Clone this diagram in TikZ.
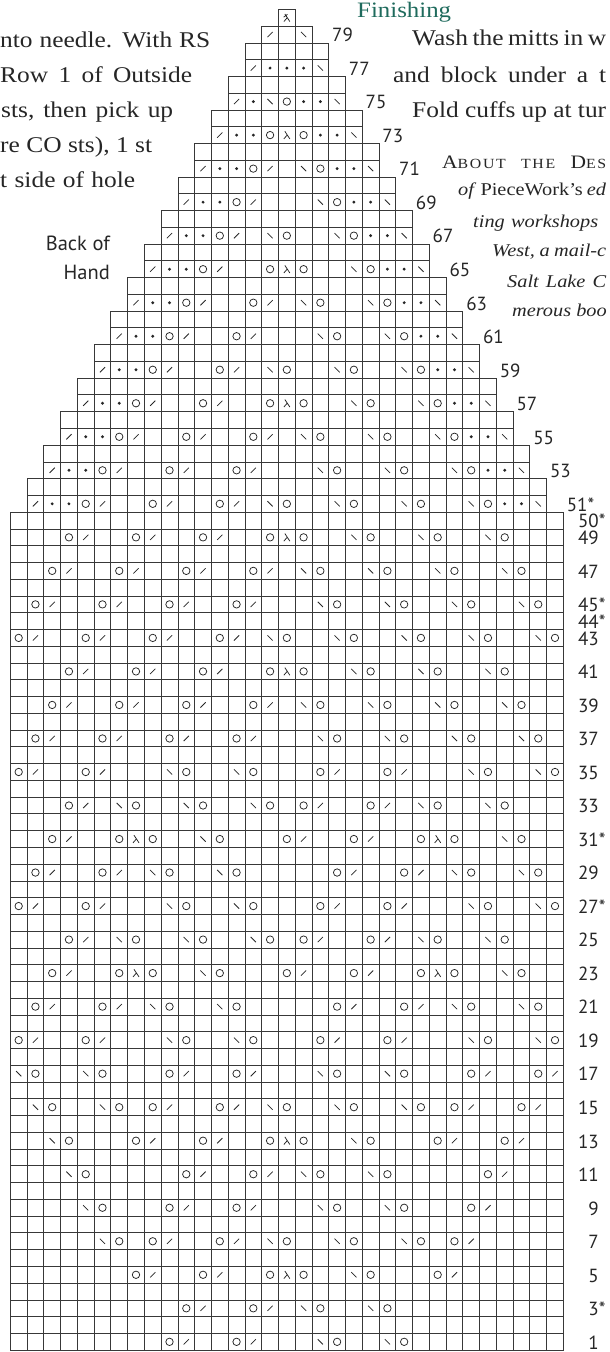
\documentclass[tikz,border=0pt]{standalone}
\usepackage{fontspec}
\setmainfont[FakeStretch=1.13]{Liberation Serif}
\newfontfamily\lblfont{PT Sans}
\definecolor{headteal}{HTML}{1F6B5D}
\definecolor{inkc}{HTML}{262626}

% knitting symbols: #1 = x centre, #2 = y centre (y grows downwards)
\newcommand\kxo[2]{\draw[symline] (#1,#2) circle (3.7);}
\newcommand\kxk[2]{\draw[symline] ({#1-2.6},{#2+2.6}) -- ({#1+2.6},{#2-2.6});}
\newcommand\kxs[2]{\draw[symline] ({#1-2.6},{#2-2.6}) -- ({#1+2.6},{#2+2.6});}
\newcommand\kxp[2]{\fill[inkc] (#1,#2) circle (1.6);}
\newcommand\kxa[2]{\draw[symline] ({#1-2},{#2-3.8}) -- ({#1+3},{#2+3.8}) ({#1+0.4},{#2-0.1}) -- ({#1-3},{#2+3.8});}
\newcommand\kxt[2]{\draw[symline] ({#1-2},{#2-3.8}) -- ({#1+3},{#2+3.8}) ({#1+0.4},{#2-0.1}) -- ({#1-3},{#2+3.8}) ({#1-3.2},{#2-0.6}) -- ({#1+0.6},{#2-3.4});}

\newcommand\symrow[2]{%
  \pgfmathsetmacro{\yc}{9.4+(80.5-#1)*16.76}%
  \foreach \cc/\sy in #2 {%
    \pgfmathsetmacro{\xc}{10.3+(\cc+0.5)*16.76}%
    \csname kx\sy\endcsname{\xc}{\yc}%
  }}

\def\rA{0/o,1/k,4/o,5/k,9/s,10/o,13/s,14/o,18/o,19/k,22/o,23/k,27/s,28/o,31/s,32/o}
\def\rB{1/o,2/k,5/o,6/k,8/s,9/o,12/s,13/o,19/o,20/k,23/o,24/k,26/s,27/o,30/s,31/o}
\def\rC{2/o,3/k,6/o,7/a,8/o,11/s,12/o,16/o,17/k,20/o,21/k,24/o,25/a,26/o,29/s,30/o}
\def\rD{3/o,4/k,6/s,7/o,10/s,11/o,14/s,15/o,17/o,18/k,21/o,22/k,24/s,25/o,28/s,29/o}
\def\rE{1/o,2/k,5/o,6/k,9/o,10/k,13/o,14/k,18/s,19/o,22/s,23/o,26/s,27/o,30/s,31/o}
\def\rF{2/o,3/k,6/o,7/k,10/o,11/k,14/o,15/k,17/s,18/o,21/s,22/o,25/s,26/o,29/s,30/o}
\def\rG{3/o,4/k,7/o,8/k,11/o,12/k,15/o,16/a,17/o,20/s,21/o,24/s,25/o,28/s,29/o}
\def\rH{0/o,1/k,4/o,5/k,8/o,9/k,12/o,13/k,15/s,16/o,19/s,20/o,23/s,24/o,27/s,28/o,31/s,32/o}

\begin{document}
\begin{tikzpicture}[x=1pt,y=-1pt,
  gridline/.style={draw=black!78, line width=0.8pt},
  symline/.style={draw=inkc, line width=0.75pt},
  lbl/.style={font=\lblfont\fontsize{19}{19}\selectfont, inner sep=0pt, text=inkc},
  body/.style={font=\fontsize{22.5}{24}\selectfont, inner sep=0pt, text=inkc},
  ital/.style={font=\fontsize{18}{20}\selectfont\itshape, inner sep=0pt, text=inkc},
  side/.style={font=\lblfont\fontsize{20.5}{22}\selectfont, inner sep=0pt, text=inkc}]
\useasboundingbox (0,0) rectangle (610,1352);
\clip (0,0) rectangle (610,1352);
\fill[white] (0,0) rectangle (610,1352);

% ---- grid ----
\foreach \r in {1,...,80}{
  \pgfmathtruncatemacro{\ka}{\r<51 ? 0 : (\r<79 ? 1+floor((\r-51)/2) : (\r==79 ? 15 : 16))}
  \pgfmathtruncatemacro{\kb}{32-\ka}
  \pgfmathsetmacro{\yt}{9.4+(80-\r)*16.76}
  \foreach \cc in {\ka,...,\kb}{
    \draw[gridline] ({10.3+\cc*16.76},\yt) rectangle ++(16.76,16.76);
  }
}

% ---- symbols ----
\symrow{1}{{9/o,10/k,13/o,14/k,18/s,19/o,22/s,23/o}}
\symrow{3}{{10/o,11/k,14/o,15/k,17/s,18/o,21/s,22/o}}
\symrow{5}{{7/o,8/k,11/o,12/k,15/o,16/a,17/o,20/s,21/o,25/o,26/k}}
\symrow{7}{{5/s,6/o,8/o,9/k,12/o,13/k,15/s,16/o,19/s,20/o,23/s,24/o,26/o,27/k}}
\symrow{9}{{4/s,5/o,9/o,10/k,13/o,14/k,18/s,19/o,22/s,23/o,27/o,28/k}}
\symrow{11}{{3/s,4/o,10/o,11/k,14/o,15/k,17/s,18/o,21/s,22/o,28/o,29/k}}
\symrow{13}{{2/s,3/o,7/o,8/k,11/o,12/k,15/o,16/a,17/o,20/s,21/o,25/o,26/k,29/o,30/k}}
\symrow{15}{{1/s,2/o,5/s,6/o,8/o,9/k,12/o,13/k,15/s,16/o,19/s,20/o,23/s,24/o,26/o,27/k,30/o,31/k}}
\symrow{17}{{0/s,1/o,4/s,5/o,9/o,10/k,13/o,14/k,18/s,19/o,22/s,23/o,27/o,28/k,31/o,32/k}}
\symrow{19}{\rA}
\symrow{21}{\rB}
\symrow{23}{\rC}
\symrow{25}{\rD}
\symrow{27}{\rA}
\symrow{29}{\rB}
\symrow{31}{\rC}
\symrow{33}{\rD}
\symrow{35}{\rA}
\symrow{37}{\rE}
\symrow{39}{\rF}
\symrow{41}{\rG}
\symrow{43}{\rH}
\symrow{45}{\rE}
\symrow{47}{\rF}
\symrow{49}{\rG}
\symrow{51}{{1/k,2/p,3/p,4/o,5/k,8/o,9/k,12/o,13/k,15/s,16/o,19/s,20/o,23/s,24/o,27/s,28/o,29/p,30/p,31/s}}
\symrow{53}{{2/k,3/p,4/p,5/o,6/k,9/o,10/k,13/o,14/k,18/s,19/o,22/s,23/o,26/s,27/o,28/p,29/p,30/s}}
\symrow{55}{{3/k,4/p,5/p,6/o,7/k,10/o,11/k,14/o,15/k,17/s,18/o,21/s,22/o,25/s,26/o,27/p,28/p,29/s}}
\symrow{57}{{4/k,5/p,6/p,7/o,8/k,11/o,12/k,15/o,16/a,17/o,20/s,21/o,24/s,25/o,26/p,27/p,28/s}}
\symrow{59}{{5/k,6/p,7/p,8/o,9/k,12/o,13/k,15/s,16/o,19/s,20/o,23/s,24/o,25/p,26/p,27/s}}
\symrow{61}{{6/k,7/p,8/p,9/o,10/k,13/o,14/k,18/s,19/o,22/s,23/o,24/p,25/p,26/s}}
\symrow{63}{{7/k,8/p,9/p,10/o,11/k,14/o,15/k,17/s,18/o,21/s,22/o,23/p,24/p,25/s}}
\symrow{65}{{8/k,9/p,10/p,11/o,12/k,15/o,16/a,17/o,20/s,21/o,22/p,23/p,24/s}}
\symrow{67}{{9/k,10/p,11/p,12/o,13/k,15/s,16/o,19/s,20/o,21/p,22/p,23/s}}
\symrow{69}{{10/k,11/p,12/p,13/o,14/k,18/s,19/o,20/p,21/p,22/s}}
\symrow{71}{{11/k,12/p,13/p,14/o,15/k,17/s,18/o,19/p,20/p,21/s}}
\symrow{73}{{12/k,13/p,14/p,15/o,16/a,17/o,18/p,19/p,20/s}}
\symrow{75}{{13/k,14/p,15/s,16/o,17/p,18/p,19/s}}
\symrow{77}{{14/k,15/p,16/p,17/p,18/s}}
\symrow{79}{{15/k,17/s}}
\symrow{80}{{16/t}}

% ---- row numbers, lower part (right aligned) ----
\foreach \r/\lab in {1/1,3/3\rlap{*},5/5,7/7,9/9,11/11,13/13,15/15,17/17,19/19,21/21,23/23,25/25,27/27\rlap{*},29/29,31/31\rlap{*},33/33,35/35,37/37,39/39,41/41,43/43,44/44\rlap{*},45/45\rlap{*},47/47,49/49,50/50\rlap{*}}{
  \pgfmathsetmacro{\yc}{9.4+(80.5-\r)*16.76+7.3}
  \node[lbl, anchor=base east] (n\r) at (599,\yc) {\lab};
}
% ---- row numbers, upper part (stepped) ----
\foreach \r/\lab in {51/51*,53/53,55/55,57/57,59/59,61/61,63/63,65/65,67/67,69/69,71/71,73/73,75/75,77/77,79/79}{
  \pgfmathtruncatemacro{\kb}{\r<79 ? 31-floor((\r-51)/2) : 17}
  \pgfmathsetmacro{\yc}{9.4+(80.5-\r)*16.76+7.3}
  \pgfmathsetmacro{\xl}{10.3+(\kb+1)*16.76+20}
  \node[lbl, anchor=base west] (n\r) at (\xl,\yc) {\lab};
}

% ---- side label ----
\node[side, anchor=base east] (back) at (110,250) {Back of};
\node[side, anchor=base east] (hand) at (110,279) {Hand};

% ---- left column text (cut at left edge) ----
\node[body, anchor=base west] (l1) at (0,47) {\makebox[210pt][s]{nto needle. With RS}};
\node[body, anchor=base west] (l2) at (0,82) {\makebox[192pt][s]{Row 1 of Outside}};
\node[body, anchor=base west] (l3) at (1,117) {\makebox[172pt][s]{sts, then pick up}};
\node[body, anchor=base west] (l4) at (0,152) {\makebox[152pt][s]{re CO sts), 1 st}};
\node[body, anchor=base west] (l5) at (0,187) {\makebox[135pt][s]{t side of hole}};

% ---- right column text ----
\node[font=\fontsize{22}{24}\selectfont, text=headteal, inner sep=0pt, anchor=base west] (fin) at (357,17.5) {Finishing};
\node[body, anchor=base west] (r1) at (412,45) {\makebox[194pt][s]{Wash the mitts in w}};
\node[body, anchor=base west] (r2) at (393,82) {\makebox[213pt][s]{and block under a t}};
\node[body, anchor=base west] (r3) at (412,117) {\makebox[194pt][s]{Fold cuffs up at tur}};
\node[inner sep=0pt, text=inkc, anchor=base west] (r4) at (442,168) {\makebox[164pt][s]{\addfontfeatures{LetterSpace=12}\fontsize{19}{20}\selectfont A\fontsize{14}{16}\selectfont BOUT THE \fontsize{19}{20}\selectfont D\fontsize{14}{16}\selectfont ES}};
\node[inner sep=0pt, text=inkc, anchor=base west, font=\fontsize{18}{20}\selectfont] (r5) at (458,195) {\makebox[148pt][s]{\textit{of} PieceWork's \textit{ed}}};
\node[ital, anchor=base west] (r6) at (473,227) {\makebox[125pt][s]{ting workshops}};
\node[ital, anchor=base west] (r7) at (492,256) {\makebox[114pt][s]{West, a mail-c}};
\node[ital, anchor=base west] (r8) at (507,287) {\makebox[99pt][s]{Salt Lake C}};
\node[ital, anchor=base east] (r9) at (607,316) {merous boo};
\end{tikzpicture}
\end{document}
